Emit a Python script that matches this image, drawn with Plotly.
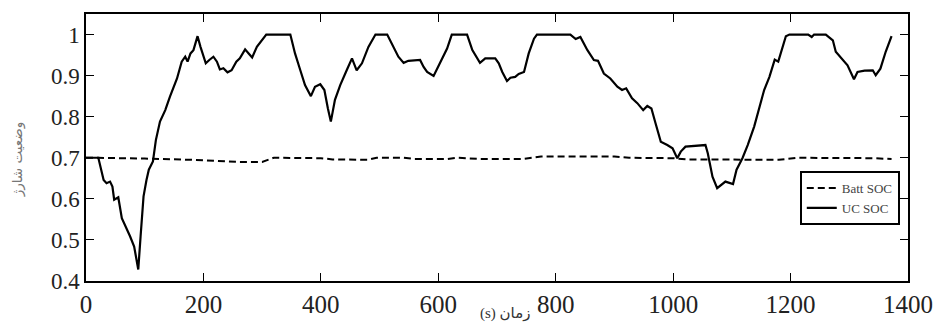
import plotly.graph_objects as go

uc_t = [0, 21, 30, 35, 41, 45, 48, 55, 61, 69, 75, 82, 89, 93, 98, 103, 107, 114, 119, 126,
        135, 143, 155, 163, 169, 173, 178, 183, 190, 195, 204, 210, 217, 223, 228, 234, 241,
        248, 256, 262, 271, 277, 283, 291, 307, 348, 356, 365, 373, 383, 390, 399, 406, 412,
        417, 424, 433, 444, 453, 461, 470, 481, 493, 513, 524, 532, 541, 549, 569, 575, 581,
        592, 601, 609, 615, 623, 649, 658, 671, 680, 697, 703, 709, 717, 723, 731, 737, 746,
        754, 763, 768, 825, 834, 842, 854, 865, 872, 882, 893, 905, 913, 920, 930, 939, 949,
        956, 963, 970, 979, 990, 999, 1007, 1013, 1021, 1036, 1055, 1059, 1067, 1075, 1089,
        1102, 1108, 1118, 1127, 1138, 1147, 1155, 1164, 1173, 1179, 1183, 1192, 1198, 1230,
        1236, 1240, 1260, 1272, 1277, 1286, 1297, 1308, 1314, 1326, 1340, 1345, 1353, 1362, 1372]
uc_soc = [0.70, 0.70, 0.646, 0.638, 0.642, 0.630, 0.598, 0.604, 0.553, 0.529, 0.509, 0.484, 0.428,
          0.509, 0.606, 0.646, 0.671, 0.691, 0.743, 0.788, 0.816, 0.849, 0.893, 0.934, 0.946,
          0.934, 0.954, 0.962, 0.996, 0.970, 0.930, 0.938, 0.946, 0.934, 0.915, 0.918, 0.908,
          0.913, 0.934, 0.942, 0.964, 0.954, 0.944, 0.970, 1.0, 1.0, 0.954, 0.913, 0.877, 0.850,
          0.873, 0.879, 0.865, 0.820, 0.788, 0.841, 0.877, 0.913, 0.942, 0.913, 0.930, 0.970,
          1.0, 1.0, 0.970, 0.946, 0.931, 0.936, 0.938, 0.921, 0.909, 0.899, 0.925, 0.950, 0.966,
          1.0, 1.0, 0.962, 0.931, 0.942, 0.942, 0.930, 0.909, 0.887, 0.895, 0.897, 0.904, 0.909,
          0.954, 0.990, 1.0, 1.0, 0.989, 0.994, 0.962, 0.938, 0.936, 0.905, 0.893, 0.873, 0.865,
          0.869, 0.845, 0.833, 0.816, 0.826, 0.820, 0.784, 0.739, 0.731, 0.723, 0.699, 0.715,
          0.727, 0.729, 0.731, 0.711, 0.654, 0.626, 0.642, 0.636, 0.671, 0.699, 0.731, 0.776,
          0.824, 0.865, 0.897, 0.939, 0.934, 0.954, 0.996, 1.0, 1.0, 0.994, 1.0, 1.0, 0.986,
          0.958, 0.942, 0.925, 0.891, 0.909, 0.912, 0.913, 0.901, 0.917, 0.958, 0.996]

batt_t = [0, 20, 100, 180, 260, 300, 320, 400, 420, 480, 495, 540, 560, 615, 632, 670, 745, 775,
          900, 925, 1000, 1025, 1180, 1210, 1340, 1372]
batt_soc = [0.700, 0.700, 0.698, 0.695, 0.690, 0.690, 0.700, 0.699, 0.696, 0.695, 0.700, 0.700,
            0.697, 0.697, 0.700, 0.697, 0.697, 0.703, 0.703, 0.700, 0.699, 0.696, 0.695, 0.700,
            0.699, 0.697]

x_ticks = [0, 200, 400, 600, 800, 1000, 1200, 1400]
y_ticks = [0.4, 0.5, 0.6, 0.7, 0.8, 0.9, 1]
y_tick_text = ["0.4", "0.5", "0.6", "0.7", "0.8", "0.9", "1"]

serif = "Liberation Serif, Times New Roman, serif"

fig = go.Figure()
fig.add_trace(go.Scatter(x=batt_t, y=batt_soc, mode="lines", name="Batt SOC",
                         line=dict(color="black", width=2, dash="7px,4px")))
fig.add_trace(go.Scatter(x=uc_t, y=uc_soc, mode="lines", name="UC SOC",
                         line=dict(color="black", width=2.2)))

axis_common = dict(showline=True, linecolor="black", linewidth=1.5, mirror="ticks",
                   ticks="inside", ticklen=8, tickwidth=1.3, tickcolor="black",
                   showgrid=False, zeroline=False, automargin=False)

fig.update_xaxes(range=[0, 1400], tickvals=x_ticks, tickfont=dict(family=serif, size=25, color="#222"),
                 ticklabelstandoff=0, **axis_common)
fig.update_yaxes(range=[0.4, 1.05], tickvals=y_ticks, ticktext=y_tick_text,
                 tickfont=dict(family=serif, size=23, color="#222"), **axis_common)

fig.add_annotation(text="وضعیت شارژ", xref="paper", yref="paper", x=-0.083, y=0.455,
                   textangle=-90, showarrow=False, xanchor="center", yanchor="middle",
                   font=dict(family="DejaVu Sans, sans-serif", size=13.5, color="#777"))
fig.add_annotation(text="(s) زمان", xref="paper", yref="paper", x=0.51, y=-0.12,
                   showarrow=False, xanchor="center", yanchor="middle",
                   font=dict(family="Liberation Serif, DejaVu Sans, serif", size=15, color="#333"))

fig.update_layout(
    width=941, height=322,
    margin=dict(l=86, r=33, t=14, b=41),
    plot_bgcolor="white", paper_bgcolor="white",
    showlegend=True,
    legend=dict(x=0.99, y=0.412, xanchor="right", yanchor="top",
                bgcolor="white", bordercolor="black", borderwidth=2,
                font=dict(family=serif, size=13, color="#444"),
                tracegroupgap=0, itemwidth=30),
)

fig.write_html("out.html", config={"displayModeBar": False},
               post_script="document.body.style.margin='0px';")
